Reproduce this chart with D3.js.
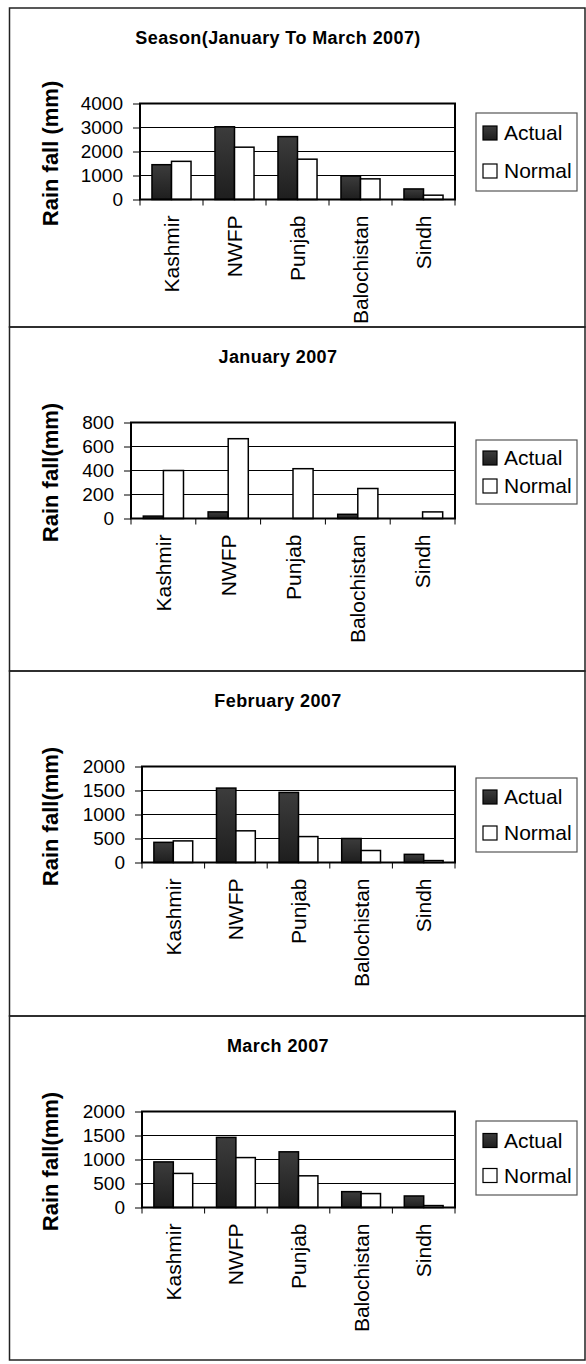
<!DOCTYPE html>
<html>
<head>
<meta charset="utf-8">
<script src="https://cdn.jsdelivr.net/npm/d3@7"></script>
<style>
  body { margin: 0; background: #fff; }
  svg text { font-family: "Liberation Sans", Arial, sans-serif; fill: #000; }
</style>
</head>
<body>
<div id="chart"></div>
<script>
// Data
const regions = ["Kashmir", "NWFP", "Punjab", "Balochistan", "Sindh"];
const seriesNames = ["Actual", "Normal"];

const titles = ["Season(January To March 2007)", "January 2007", "February 2007", "March 2007"];
const yTitles = ["Rain fall (mm)", "Rain fall(mm)", "Rain fall(mm)", "Rain fall(mm)"];

const seasonActual = [1450, 3030, 2620, 980, 440];
const seasonNormal = [1590, 2180, 1680, 860, 180];
const janActual = [20, 55, 0, 35, 0];
const janNormal = [400, 665, 415, 250, 55];
const febActual = [420, 1550, 1460, 500, 170];
const febNormal = [450, 660, 540, 250, 40];
const marActual = [950, 1460, 1160, 330, 240];
const marNormal = [710, 1040, 660, 290, 40];

const seasonTicks = [0, 1000, 2000, 3000, 4000];
const janTicks = [0, 200, 400, 600, 800];
const febTicks = [0, 500, 1000, 1500, 2000];
const marTicks = [0, 500, 1000, 1500, 2000];

const panels = [
  {title: titles[0], yTitle: yTitles[0], actual: seasonActual, normal: seasonNormal, ticks: seasonTicks},
  {title: titles[1], yTitle: yTitles[1], actual: janActual, normal: janNormal, ticks: janTicks},
  {title: titles[2], yTitle: yTitles[2], actual: febActual, normal: febNormal, ticks: febTicks},
  {title: titles[3], yTitle: yTitles[3], actual: marActual, normal: marNormal, ticks: marTicks}
];

// Layout
const width = 586, height = 1364;
const panelTops = [8, 327, 671, 1016, 1360];
const plotLefts = [140, 131, 142, 142];
const plotRight = 455;
// legend box: offset from panel top, height, spacing between entries
const legendLayout = [
  {top: 105, h: 78, gap: 38},
  {top: 113, h: 64, gap: 28},
  {top: 107, h: 74, gap: 36},
  {top: 105, h: 74, gap: 35}
];

const svg = d3.select("#chart").append("svg")
    .attr("width", width)
    .attr("height", height);

const defs = svg.append("defs");
const grad = defs.append("linearGradient")
    .attr("id", "darkFill")
    .attr("x1", 0).attr("y1", 0).attr("x2", 0).attr("y2", 1);
grad.append("stop").attr("offset", "0%").attr("stop-color", "#3c3c3c");
grad.append("stop").attr("offset", "100%").attr("stop-color", "#1e1e1e");

const fills = {Actual: "url(#darkFill)", Normal: "#fff"};

panels.forEach((p, i) => drawPanel(p, i));

function drawPanel(p, i) {
  const top = panelTops[i], bottom = panelTops[i + 1];
  const g = svg.append("g");

  // panel frame
  g.append("rect")
      .attr("x", 9.5).attr("y", top)
      .attr("width", 575.5).attr("height", bottom - top)
      .attr("fill", "none")
      .attr("stroke", "#222")
      .attr("stroke-width", 1.5);

  // title
  g.append("text")
      .attr("x", 278).attr("y", top + 36)
      .attr("text-anchor", "middle")
      .style("font-size", "18px")
      .style("font-weight", "bold")
      .style("letter-spacing", "0.4px")
      .text(p.title);

  const plotTop = top + 95.5, plotBottom = top + 191.5;
  const left = plotLefts[i];

  const x0 = d3.scaleBand()
      .domain(regions)
      .range([left, plotRight])
      .paddingInner(0.38)
      .paddingOuter(0.19);
  const x1 = d3.scaleBand()
      .domain(seriesNames)
      .range([0, x0.bandwidth()]);
  const y = d3.scaleLinear()
      .domain(d3.extent(p.ticks))
      .range([plotBottom, plotTop]);

  // gridlines
  g.append("g").selectAll("line")
      .data(p.ticks)
    .enter().append("line")
      .attr("x1", left).attr("x2", plotRight)
      .attr("y1", d => y(d)).attr("y2", d => y(d))
      .attr("stroke", "#000")
      .attr("stroke-width", 1);

  // y axis
  const yAxis = g.append("g")
      .attr("transform", `translate(${left},0)`)
      .call(d3.axisLeft(y).tickValues(p.ticks).tickSize(7).tickPadding(10).tickFormat(d3.format("d")));
  yAxis.select(".domain").remove();
  yAxis.selectAll(".tick line").attr("stroke", "#000");
  yAxis.selectAll(".tick text")
      .style("font-size", "19px")
      .style("font-family", "'Liberation Sans', Arial, sans-serif");

  // bars
  const groups = g.append("g").selectAll("g")
      .data(regions)
    .enter().append("g")
      .attr("transform", d => `translate(${x0(d)},0)`);

  groups.selectAll("rect")
      .data((d, j) => [{s: "Actual", v: p.actual[j]}, {s: "Normal", v: p.normal[j]}])
    .enter().append("rect")
      .filter(d => d.v > 0)
      .attr("x", d => x1(d.s))
      .attr("y", d => y(d.v))
      .attr("width", x1.bandwidth())
      .attr("height", d => y(0) - y(d.v))
      .attr("fill", d => fills[d.s])
      .attr("stroke", "#000")
      .attr("stroke-width", 1.5);

  // plot border
  g.append("rect")
      .attr("x", left).attr("y", plotTop)
      .attr("width", plotRight - left).attr("height", plotBottom - plotTop)
      .attr("fill", "none")
      .attr("stroke", "#000")
      .attr("stroke-width", 2);

  // category ticks below axis
  const step = x0.step();
  g.append("g").selectAll("line")
      .data(d3.range(regions.length + 1))
    .enter().append("line")
      .attr("x1", k => left + k * step).attr("x2", k => left + k * step)
      .attr("y1", plotBottom).attr("y2", plotBottom + 6)
      .attr("stroke", "#000");

  // category labels
  g.append("g").selectAll("text")
      .data(regions)
    .enter().append("text")
      .attr("transform", d => `translate(${x0(d) + x0.bandwidth() / 2},${plotBottom + 16}) rotate(-90)`)
      .attr("text-anchor", "end")
      .attr("dy", "0.36em")
      .style("font-size", "21px")
      .text(d => d);

  // y title
  g.append("text")
      .attr("transform", `translate(50,${(plotTop + plotBottom) / 2 + 2}) rotate(-90)`)
      .attr("text-anchor", "middle")
      .attr("dy", "0.36em")
      .style("font-size", "22px")
      .style("font-weight", "bold")
      .text(p.yTitle);

  // legend
  const L = legendLayout[i];
  const lg = g.append("g").attr("transform", `translate(476,${top + L.top})`);
  lg.append("rect")
      .attr("width", 101).attr("height", L.h)
      .attr("fill", "#fff")
      .attr("stroke", "#555")
      .attr("stroke-width", 1.2);
  const firstY = (L.h - L.gap) / 2;
  const items = lg.selectAll(".item")
      .data(seriesNames)
    .enter().append("g")
      .attr("class", "item")
      .attr("transform", (d, k) => `translate(7,${firstY + k * L.gap})`);
  items.append("rect")
      .attr("y", -7)
      .attr("width", 14).attr("height", 14)
      .attr("fill", d => fills[d])
      .attr("stroke", "#000")
      .attr("stroke-width", 1.2);
  items.append("text")
      .attr("x", 21).attr("y", 7)
      .style("font-size", "21px")
      .text(d => d);
}
</script>
</body>
</html>
